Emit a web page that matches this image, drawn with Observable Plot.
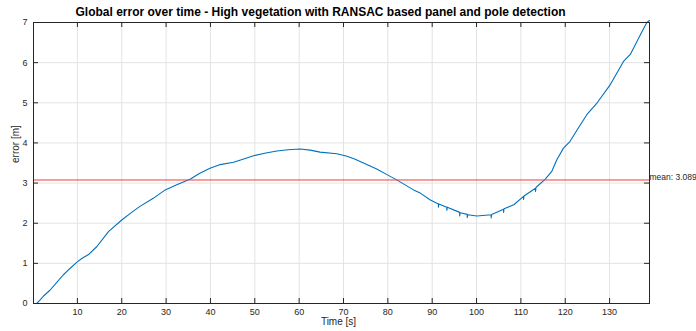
<!DOCTYPE html>
<html>
<head>
<meta charset="utf-8">
<script src="https://cdn.jsdelivr.net/npm/d3@7"></script>
<script src="https://cdn.jsdelivr.net/npm/@observablehq/plot@0.6"></script>
<style>
  html, body { margin: 0; padding: 0; background: #fff; }
  svg { display: block; }
</style>
</head>
<body>
<div id="chart"></div>
<script>
const title = "Global error over time - High vegetation with RANSAC based panel and pole detection";
const xLabel = "Time [s]";
const yLabel = "error [m]";
const meanValue = 3.089;
const meanLabel = "mean: 3.089";
const xTicks = [10, 20, 30, 40, 50, 60, 70, 80, 90, 100, 110, 120, 130];
const yTicks = [0, 1, 2, 3, 4, 5, 6, 7];

const time = [0.1, 0.8, 1.5, 2.5, 3.8, 5.3, 6.8, 8.2, 9.9, 11, 12.5, 14.4, 17, 20, 22, 24.1, 27.1, 29.8, 32.4, 35.5, 37.5, 39.9, 42.2, 45.2, 47.5, 49.7, 52.5, 55, 57.5, 60.2, 62.5, 64.7, 68.5, 70.8, 72.5, 74.5, 77.5, 79.8, 82, 85.8, 87.3, 89.6, 91.4, 91.4, 91.5, 93.3, 93.3, 93.4, 96.2, 96.2, 96.3, 97.9, 97.9, 98, 100.1, 103.3, 103.3, 103.4, 106.1, 106.1, 106.2, 108.4, 110.6, 110.6, 110.7, 113.3, 113.3, 113.4, 115.5, 117, 118.1, 119.6, 121.1, 122.7, 124.9, 127.2, 130.2, 133.2, 134.7, 137, 138.4, 139];
const error = [0, 0.0, 0.08, 0.2, 0.33, 0.52, 0.71, 0.86, 1.03, 1.12, 1.22, 1.42, 1.79, 2.08, 2.25, 2.42, 2.62, 2.83, 2.96, 3.10, 3.24, 3.37, 3.46, 3.52, 3.60, 3.68, 3.75, 3.80, 3.83, 3.85, 3.82, 3.77, 3.73, 3.67, 3.60, 3.50, 3.35, 3.21, 3.08, 2.83, 2.75, 2.58, 2.48, 2.40, 2.48, 2.40, 2.32, 2.40, 2.27, 2.18, 2.26, 2.22, 2.14, 2.21, 2.18, 2.21, 2.13, 2.22, 2.35, 2.27, 2.36, 2.46, 2.67, 2.59, 2.68, 2.87, 2.79, 2.89, 3.10, 3.30, 3.58, 3.87, 4.04, 4.33, 4.71, 5.00, 5.46, 6.04, 6.21, 6.71, 7.0, 7.05];

const series = time.map((t, i) => ({t, e: error[i]}));

const W = 696, H = 331;
const mL = 33, mR = 47, mT = 22, mB = 28;
const innerW = W - mL - mR, innerH = H - mT - mB;
const ink = "#262626";
const font = "'Liberation Sans', Arial, Helvetica, sans-serif";

const chart = Plot.plot({
  width: W,
  height: H,
  marginLeft: mL,
  marginRight: mR,
  marginTop: mT,
  marginBottom: mB,
  style: {fontFamily: font, fontSize: "9px", color: ink, background: "#fff", overflow: "visible"},
  x: {domain: [0.1, 139]},
  y: {domain: [0, 7]},
  marks: [
    Plot.gridX(xTicks, {stroke: "#e3e3e3", strokeOpacity: 1, strokeWidth: 1}),
    Plot.gridY(yTicks, {stroke: "#e3e3e3", strokeOpacity: 1, strokeWidth: 1}),
    Plot.axisX(xTicks, {tickSize: 0, tickPadding: 5, fontSize: 9, fill: ink, label: null}),
    Plot.axisY(yTicks, {tickSize: 0, tickPadding: 6, fontSize: 9, fill: ink, label: null}),
    // inward ticks
    Plot.ruleX(xTicks, {stroke: ink, strokeWidth: 1, insetTop: innerH - 5}),
    Plot.ruleX(xTicks, {stroke: ink, strokeWidth: 1, insetBottom: innerH - 5}),
    Plot.ruleY(yTicks, {stroke: ink, strokeWidth: 1, insetRight: innerW - 5}),
    Plot.ruleY(yTicks, {stroke: ink, strokeWidth: 1, insetLeft: innerW - 5}),
    Plot.line(series, {x: "t", y: "e", stroke: "#0072BD", strokeWidth: 1.1}),
    Plot.ruleY([meanValue], {stroke: "#f03c3c", strokeWidth: 1, dy: 0.5}),
    Plot.frame({stroke: ink, strokeWidth: 1}),
    Plot.text([meanLabel], {x: [139], y: [meanValue], text: d => d, textAnchor: "start", lineAnchor: "bottom", dx: 0, dy: 1, fontSize: 8.5, fill: ink}),
    Plot.text([title], {frameAnchor: "top-left", textAnchor: "start", dx: 42, dy: -15, fontSize: 12, fontWeight: "bold", fill: "#000"}),
    Plot.text([xLabel], {frameAnchor: "bottom", dx: -3, dy: 21, fontSize: 10, fill: ink}),
    Plot.text([yLabel], {frameAnchor: "left", rotate: -90, dx: -18, fontSize: 10, fill: ink})
  ]
});
document.getElementById("chart").appendChild(chart);
</script>
</body>
</html>
